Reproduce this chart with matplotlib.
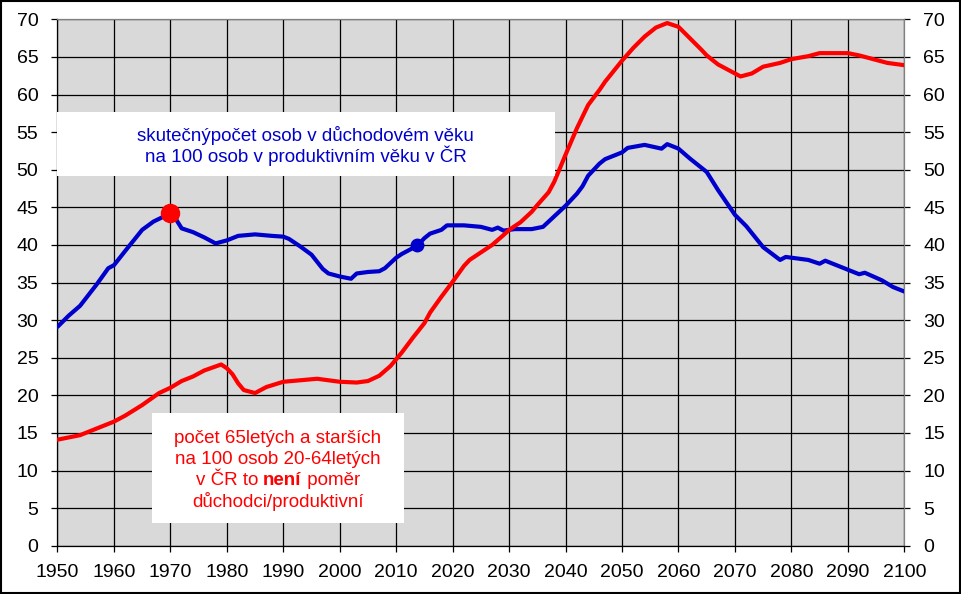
import matplotlib
matplotlib.use('Agg')
import matplotlib.pyplot as plt
from matplotlib.patches import Rectangle
from matplotlib.transforms import IdentityTransform

plt.rcParams['font.family'] = ['Liberation Sans', 'DejaVu Sans']

# počet 65+ na 100 osob 20-64 (červená)
roky_cervena = [1950, 1952, 1954, 1957, 1960, 1962, 1965, 1968, 1970, 1972, 1974, 1976,
                1979, 1980, 1981, 1982, 1983, 1985, 1987, 1990, 1993, 1996, 2000, 2003,
                2005, 2007, 2009, 2010, 2011, 2013, 2015, 2016, 2018, 2020, 2022, 2023,
                2025, 2027, 2029, 2030, 2032, 2034, 2035, 2037, 2038, 2040, 2042, 2044,
                2046, 2047, 2050, 2052, 2054, 2056, 2058, 2060, 2062, 2064, 2065, 2067,
                2070, 2071, 2073, 2075, 2078, 2080, 2083, 2085, 2090, 2092, 2095, 2097, 2100]
hodnoty_cervena = [14.1, 14.4, 14.7, 15.6, 16.5, 17.3, 18.7, 20.3, 21.0, 21.9, 22.5, 23.3,
                   24.1, 23.6, 22.8, 21.6, 20.7, 20.3, 21.1, 21.8, 22.0, 22.2, 21.8, 21.7,
                   21.9, 22.6, 23.9, 24.8, 25.7, 27.7, 29.6, 31.0, 33.1, 35.1, 37.2, 38.0,
                   39.0, 40.0, 41.3, 42.0, 43.0, 44.4, 45.3, 47.0, 48.4, 52.0, 55.5, 58.6,
                   60.6, 61.7, 64.5, 66.2, 67.7, 68.9, 69.5, 69.0, 67.5, 66.0, 65.2, 64.0,
                   62.8, 62.4, 62.8, 63.7, 64.2, 64.7, 65.1, 65.5, 65.5, 65.2, 64.6, 64.2, 63.9]

# skutečný počet osob v důchodovém věku na 100 v produktivním (modrá)
roky_modra = [1950, 1952, 1954, 1957, 1959, 1960, 1962, 1965, 1967, 1970, 1971, 1972,
              1974, 1976, 1978, 1980, 1982, 1985, 1988, 1990, 1991, 1993, 1995, 1997,
              1998, 2000, 2002, 2003, 2005, 2007, 2008, 2010, 2011, 2013, 2014, 2015,
              2016, 2018, 2019, 2022, 2025, 2027, 2028, 2029, 2031, 2034, 2036, 2038,
              2040, 2042, 2043, 2044, 2046, 2047, 2049, 2050, 2051, 2054, 2057, 2058,
              2060, 2062, 2064, 2065, 2067, 2070, 2072, 2075, 2078, 2079, 2083, 2085,
              2086, 2090, 2092, 2093, 2096, 2098, 2100]
hodnoty_modra = [29.1, 30.6, 31.9, 34.8, 36.9, 37.3, 39.2, 42.0, 43.1, 44.2, 43.4, 42.2,
                 41.7, 41.0, 40.2, 40.6, 41.2, 41.4, 41.2, 41.1, 40.8, 39.8, 38.7, 36.8,
                 36.2, 35.8, 35.5, 36.2, 36.4, 36.5, 36.9, 38.3, 38.8, 39.6, 40.1, 40.9,
                 41.5, 42.0, 42.6, 42.6, 42.4, 42.0, 42.3, 41.9, 42.1, 42.1, 42.4, 43.8,
                 45.2, 46.8, 47.8, 49.2, 50.8, 51.4, 52.0, 52.3, 52.9, 53.3, 52.8, 53.4,
                 52.8, 51.5, 50.3, 49.7, 47.3, 44.0, 42.5, 39.7, 38.0, 38.4, 38.0, 37.5,
                 37.9, 36.7, 36.1, 36.3, 35.3, 34.4, 33.8]

# zvýrazněné body
bod_cerveny = (1970, 44.2)
bod_modry = (2013.7, 40.0)

text_modry = ['skutečnýpočet osob v důchodovém věku',
              'na 100 osob v produktivním věku v ČR']
text_cerveny = ['počet 65letých a starších', 'na 100 osob 20-64letých']
text_cerveny_3 = ['v ČR to ', 'není', ' poměr']
text_cerveny_4 = 'důchodci/produktivní'

MODRA = '#0000CC'
CERVENA = '#FF0000'
SEDA = '#808080'
VEL = 13.5


def main():
    fig = plt.figure(figsize=(9.61, 5.94), dpi=100)
    ax = fig.add_axes([0.0598, 0.0813, 0.8812, 0.8862])
    ax.set_facecolor('#D9D9D9')

    ax.plot(roky_modra, hodnoty_modra, color=MODRA, lw=3, zorder=3, solid_capstyle='round')
    ax.plot(roky_cervena, hodnoty_cervena, color=CERVENA, lw=3, zorder=4, solid_capstyle='round')
    ax.plot(*bod_cerveny, 'o', color=CERVENA, ms=13, zorder=5)
    ax.plot(*bod_modry, 'o', color=MODRA, ms=9, zorder=5)

    ax.set_xlim(1950, 2100)
    ax.set_ylim(0, 70)
    ax.set_xticks(range(1950, 2101, 10))
    ax.set_yticks(range(0, 71, 5))
    ax.grid(True, color='black', lw=0.9, zorder=1)
    ax.set_axisbelow(True)

    for s in ['top', 'right']:
        ax.spines[s].set_color(SEDA)
    for s in ['left', 'bottom']:
        ax.spines[s].set_color('black')
    for s in ax.spines.values():
        s.set_linewidth(0.9)

    ax.tick_params(axis='x', direction='out', length=4.5, width=0.9, labelsize=14, pad=9)
    ax.tick_params(axis='y', direction='out', length=4.3, width=0.9, labelsize=14,
                   right=True, labelright=True, pad=9.5)
    for t in ax.yaxis.get_major_ticks():
        t.tick2line.set_color(SEDA)

    # bílé boxy
    ax.add_patch(Rectangle((1950, 49.2), 88.1, 8.5, facecolor='white', edgecolor='none', zorder=6))
    ax.add_patch(Rectangle((1966.7, 3.05), 44.7, 14.55, facecolor='white', edgecolor='none', zorder=6))

    ax.text(1994.0, 54.6, text_modry[0], color=MODRA, fontsize=VEL, ha='center', va='center', zorder=7)
    ax.text(1994.0, 51.8, text_modry[1], color=MODRA, fontsize=VEL, ha='center', va='center', zorder=7)

    xc = 1989.0
    ax.text(xc, 14.3, text_cerveny[0], color=CERVENA, fontsize=VEL, ha='center', va='center', zorder=7)
    ax.text(xc, 11.5, text_cerveny[1], color=CERVENA, fontsize=VEL, ha='center', va='center', zorder=7)
    ax.text(xc, 5.85, text_cerveny_4, color=CERVENA, fontsize=VEL, ha='center', va='center', zorder=7)

    # řádek se zvýrazněným "není"
    renderer = fig.canvas.get_renderer()
    kusy = []
    for i, s in enumerate(text_cerveny_3):
        t = ax.text(0, 0, s, color=CERVENA, fontsize=VEL, fontweight='bold' if i == 1 else 'normal',
                    ha='left', va='center', zorder=7)
        kusy.append(t)
    sirky = [t.get_window_extent(renderer).width for t in kusy]
    stred_px = ax.transData.transform((xc, 8.7))
    x0 = stred_px[0] - sum(sirky) / 2
    for t, w in zip(kusy, sirky):
        t.set_transform(IdentityTransform())
        t.set_position((x0, stred_px[1]))
        x0 += w

    # rámeček kolem celého obrázku
    fig.patches.append(Rectangle((0.001, 0.002), 0.998, 0.996, transform=fig.transFigure,
                                 fill=False, edgecolor='black', lw=1.5))

    fig.savefig('out.png', dpi=100)
    plt.close(fig)


if __name__ == '__main__':
    main()
